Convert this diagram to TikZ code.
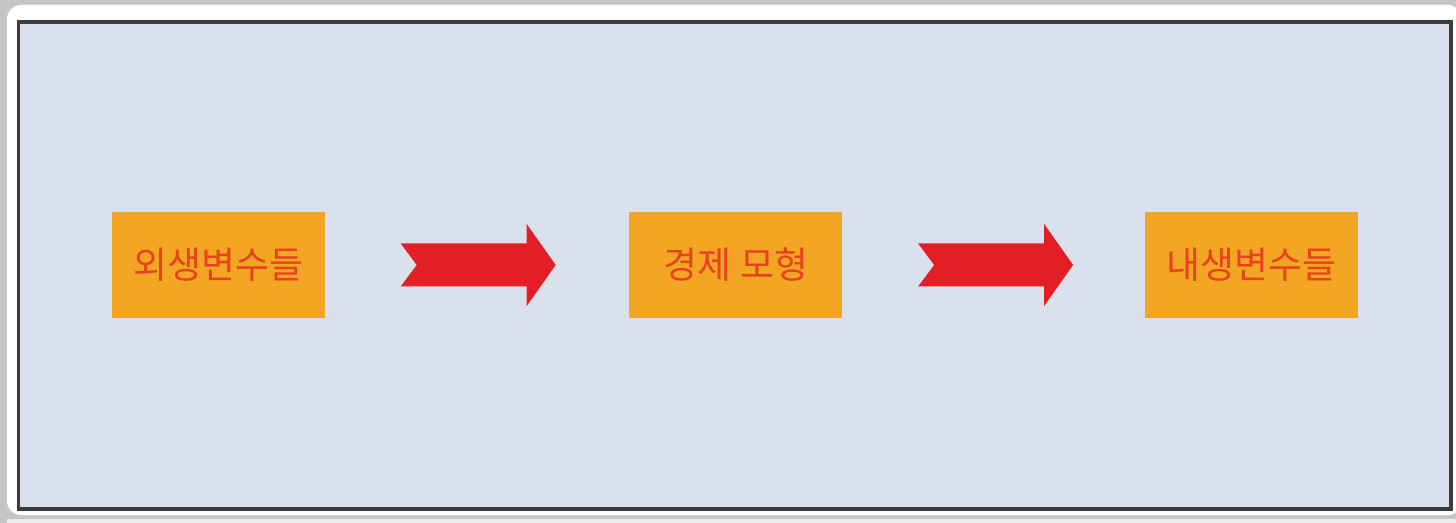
\documentclass[tikz,border=0pt]{standalone}
\usepackage{fontspec}
\newfontfamily\krfont{Noto Sans CJK KR}
\definecolor{panelblue}{RGB}{217, 225, 236}
\definecolor{boxorange}{RGB}{243, 166, 35}
\definecolor{textred}{RGB}{232, 66, 30}
\definecolor{arrowred}{RGB}{227, 30, 36}
\definecolor{framegray}{RGB}{60, 60, 60}
\usetikzlibrary{positioning, calc}

\begin{document}
\begin{tikzpicture}[
    varbox/.style={fill=boxorange, minimum width=2.13cm, minimum height=1.06cm, inner sep=0pt, font=\krfont\fontsize{10.5pt}{12pt}\selectfont, text=textred},
    flowarrow/.style={fill=arrowred}
  ]
  % Frame
  \useasboundingbox (0, 0) rectangle (14.56, -5.23);
  \fill[gray!45] (0, 0) rectangle (14.56, -5.23);
  \fill[white, rounded corners=4pt] (0.07, -0.05) rectangle (14.62, -5.15);
  \fill[gray!15] (0.07, -5.19) rectangle (14.56, -5.23);
  \draw[framegray, line width=0.9pt, fill=panelblue] (0.185, -0.22) rectangle (14.51, -5.09);

  % Variables
  \node[varbox] (exo) at (2.185, -2.65) {외생변수들};
  \node[varbox, right=3.03cm of exo] (model) {경제 모형};
  \node[varbox, right=3.01cm of model] (endo) {내생변수들};

  % Arrows
  \foreach \from in {exo, model} {
    \fill[flowarrow] ([xshift=7.5mm, yshift=2.15mm]\from.east) -- ++(1.26, 0) -- ++(0, 0.195) -- ++(0.29, -0.41) -- ++(-0.29, -0.41) -- ++(0, 0.195) -- ++(-1.26, 0) -- ++(0.16, 0.215) -- cycle;
  }
\end{tikzpicture}
\end{document}
